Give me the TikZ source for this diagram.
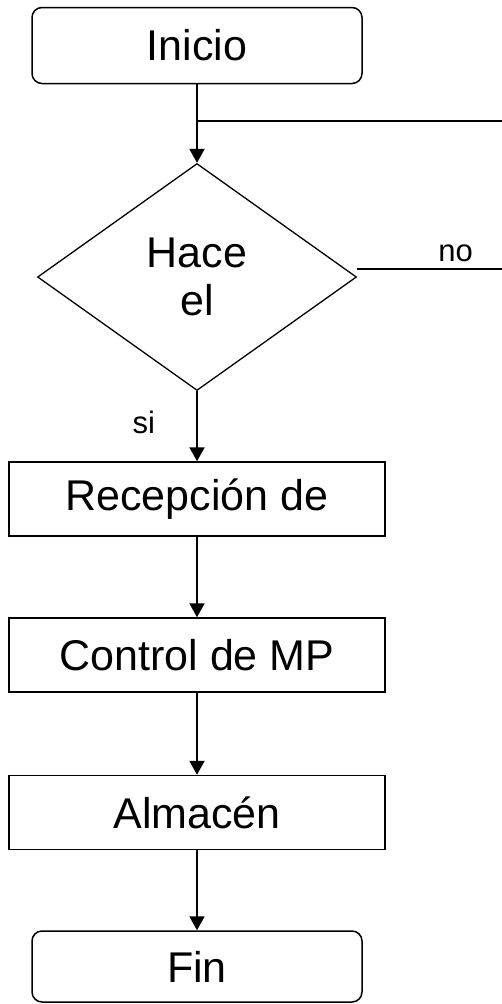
\documentclass[tikz,border=0pt]{standalone}
\usepackage{fontspec}
\setmainfont{Liberation Sans}
\usepackage{tikz}
\usetikzlibrary{shapes.geometric,arrows.meta}
\tikzset{term/.style={rectangle,rounded corners=10pt,draw,line width=1.5pt,minimum width=330pt,minimum height=76pt,font=\fontsize{43}{48}\selectfont},
         proc/.style={rectangle,draw,line width=1.5pt,minimum width=376pt,minimum height=74pt,font=\fontsize{43}{48}\selectfont},
         cond/.style={diamond,draw,line width=1.3pt,aspect=1.41,inner sep=0pt,minimum width=319pt,minimum height=227pt,align=center,font=\fontsize{43}{48}\selectfont},
         lbl/.style={font=\fontsize{31}{36}\selectfont,inner sep=0pt}}

\begin{document}
\begin{tikzpicture}[x=1pt,y=-1pt,>={Triangle[length=14pt,width=15pt]},line width=2pt]
        \useasboundingbox (0,0) rectangle (502,1004);
        \node[term] (inicio) at (197,45.5) {Inicio};
        \node[cond] (hace) at (197,277) {Hace\\el};
        \node[proc] (recep) at (197,499) {Recepción de};
        \node[proc] (control) at (197,655) {Control de MP};
        \node[proc] (almacen) at (197,812.5) {Almacén};
        \node[term,minimum height=71pt] (fin) at (197,966.5) {Fin};
        \coordinate (lazo) at (502,121);
        \coordinate (nofin) at (502,269);

        \draw [->] (inicio) to []node[]{} (hace);
        \draw [] (inicio.south |- lazo) to []node[]{} (lazo);
        \draw [line width=1.3pt] (hace.east |- nofin) to []node[lbl,pos=0.68,above=7pt]{no} (nofin);
        \draw [->] (hace) to []node[lbl,pos=0.45,left=41pt]{si} (recep);
        \draw [->] (recep) to []node[]{} (control);
        \draw [->] (control) to []node[]{} (almacen);
        \draw [->] (almacen) to []node[]{} (fin);
    \end{tikzpicture}
\end{document}
